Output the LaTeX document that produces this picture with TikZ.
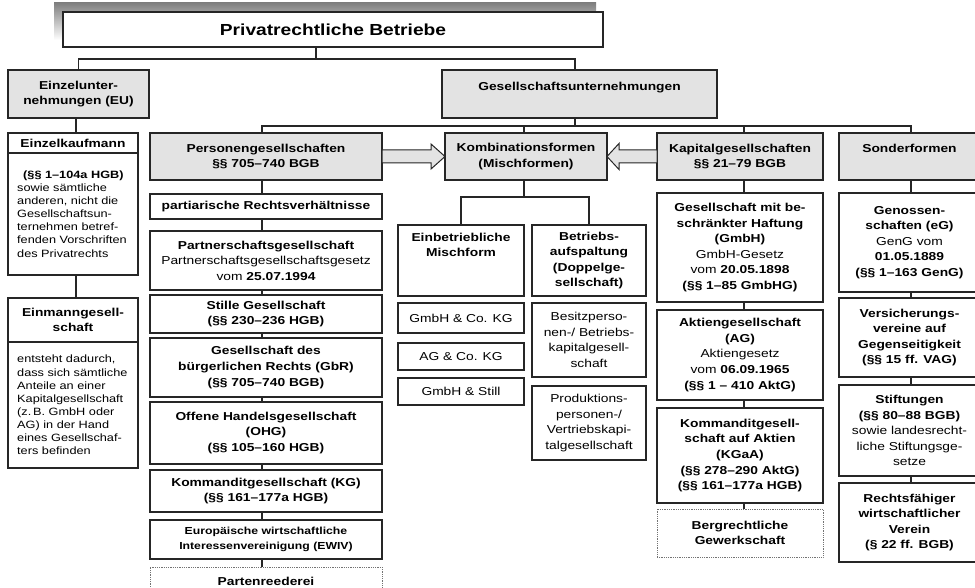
\documentclass[tikz,border=0pt]{standalone}
\usepackage{fontspec}
\setmainfont{Liberation Sans}[FakeStretch=1.2]
\usetikzlibrary{calc,backgrounds}
\definecolor{boxgray}{gray}{0.89}
\definecolor{shade}{gray}{0.91}
\definecolor{ink}{gray}{0.15}
\newcommand\fs{\fontsize{11.5}{15.6}\selectfont}
\newcommand\fsleft{\fontsize{10.6}{13.1}\selectfont}
\newcommand\fssmall{\fontsize{10.2}{15}\selectfont}

\begin{document}
\begin{tikzpicture}[x=1pt,y=-1pt,
  frame/.style={draw=ink, line width=1.2pt, inner sep=0pt, outer sep=0pt, align=center, font=\fs},
  gray box/.style={frame, fill=boxgray, font=\fs\bfseries},
  white box/.style={frame, fill=white},
  dotted box/.style={frame, fill=white, draw=black!55, line width=0.8pt, densely dotted, font=\fs\bfseries},
  area/.style n args={4}{minimum width={#3-#1}, minimum height={#4-#2}, at={({(#1+#3)/2},{(#2+#4)/2})}},
  link/.style={draw=ink, line width=1.2pt},
  block arrow/.style={draw=ink, line width=1pt, fill=boxgray, line join=miter},
  body text/.style={inner sep=0pt, text width=124pt, align=left, font=\fsleft, anchor=west}
]
\useasboundingbox (0,0) rectangle (975,588);
\clip (0,0) rectangle (975,588);

% title with its shaded backing
\fill[shade] (54,3) rectangle (596,40);
\node[frame, fill=white, line width=1.8pt, font=\fontsize{16}{19}\selectfont\bfseries, area={63}{12}{603}{47}] (top) {Privatrechtliche Betriebe};

% first level
\node[gray box, area={8}{70}{149}{118}] (eu) {Einzelunter-\\nehmungen (EU)};
\node[gray box, area={442}{70}{717}{118}] (gu) {Gesellschaftsunternehmungen\\\mbox{}};

% second level
\node[gray box, area={150}{133}{382}{180}] (pg) {Personengesellschaften\\§§ 705–740 BGB};
\node[gray box, area={445}{133}{607}{180}] (kf) {Kombinationsformen\\(Mischformen)};
\node[gray box, area={657}{133}{823}{180}] (kg) {Kapitalgesellschaften\\§§ 21–79 BGB};
\node[gray box, area={839}{133}{980}{180}] (sf) {Sonderformen\\\mbox{}};

% sole proprietorships
\node[white box, font=\fs\bfseries, area={8}{133}{138}{153}] (ekh) {Einzelkaufmann};
\node[white box, area={8}{153}{138}{275}] (ekb) {};
\node[body text] (ekt) at ([xshift=9pt]ekb.west) {\hspace*{6pt}\textbf{(§§ 1–104a HGB)}\\sowie sämtliche\\anderen, nicht die\\Gesellschaftsun-\\ternehmen betref-\\fenden Vorschriften\\des Privatrechts};
\node[white box, font=\fs\bfseries, area={8}{298}{138}{342}] (emh) {Einmanngesell-\\schaft};
\node[white box, area={8}{342}{138}{468}] (emb) {};
\node[body text] (emt) at ([xshift=9pt]emb.west) {entsteht dadurch,\\dass sich sämtliche\\Anteile an einer\\Kapitalgesellschaft\\(z.\,B. GmbH oder\\AG) in der Hand\\eines Gesellschaf-\\ters befinden};

% partnerships
\node[white box, font=\fs\bfseries, area={150}{194}{382}{219}] (pa) {partiarische Rechtsverhältnisse};
\node[white box, area={150}{231}{382}{290}] (pt) {\textbf{Partnerschaftsgesellschaft}\\Partnerschaftsgesellschaftsgesetz\\vom \textbf{25.07.1994}};
\node[white box, font=\fs\bfseries, area={150}{295}{382}{333}] (st) {Stille Gesellschaft\\(§§ 230–236 HGB)};
\node[white box, font=\fs\bfseries, area={150}{338}{382}{397}] (gb) {Gesellschaft des\\bürgerlichen Rechts (GbR)\\(§§ 705–740 BGB)};
\node[white box, font=\fs\bfseries, area={150}{402}{382}{464}] (oh) {Offene Handelsgesellschaft\\(OHG)\\(§§ 105–160 HGB)};
\node[white box, font=\fs\bfseries, area={150}{470}{382}{512}] (kd) {Kommanditgesellschaft (KG)\\(§§ 161–177a HGB)};
\node[white box, font=\fssmall\bfseries, area={150}{520}{382}{559}] (ew) {Europäische wirtschaftliche\\Interessenvereinigung (EWIV)};
\node[dotted box, area={150}{567}{382}{595}] (pr) {Partenreederei};

% mixed forms
\node[white box, font=\fs\bfseries, area={398}{225}{524}{296}] (eb) {Einbetriebliche\\Mischform\\\mbox{}\\\mbox{}};
\node[white box, font=\fs\bfseries, area={532}{225}{646}{296}] (ba) {Betriebs-\\aufspaltung\\(Doppelge-\\sellschaft)};
\node[white box, area={398}{303}{524}{333}] (m1) {GmbH \& Co. KG};
\node[white box, area={398}{343}{524}{370}] (m2) {AG \& Co. KG};
\node[white box, area={398}{378}{524}{405}] (m3) {GmbH \& Still};
\node[white box, area={532}{303}{646}{377}] (b1) {Besitzperso-\\nen-/ Betriebs-\\kapitalgesell-\\schaft};
\node[white box, area={532}{386}{646}{460}] (b2) {Produktions-\\personen-/\\Vertriebskapi-\\talgesellschaft};

% corporations
\node[white box, area={657}{193}{823}{302}] (gm) {\textbf{Gesellschaft mit be-}\\\textbf{schränkter Haftung}\\\textbf{(GmbH)}\\GmbH-Gesetz\\vom \textbf{20.05.1898}\\\textbf{(§§ 1–85 GmbHG)}};
\node[white box, area={657}{310}{823}{400}] (ag) {\textbf{Aktiengesellschaft}\\\textbf{(AG)}\\Aktiengesetz\\vom \textbf{06.09.1965}\\\textbf{(§§ 1 – 410 AktG)}};
\node[white box, font=\fs\bfseries, area={657}{408}{823}{503}] (ka) {Kommanditgesell-\\schaft auf Aktien\\(KGaA)\\(§§ 278–290 AktG)\\(§§ 161–177a HGB)};
\node[dotted box, area={657}{509}{823}{557}] (bg) {Bergrechtliche\\Gewerkschaft};

% special forms
\node[white box, area={839}{193}{980}{292}] (eg) {\textbf{Genossen-}\\\textbf{schaften (eG)}\\GenG vom\\\textbf{01.05.1889}\\\textbf{(§§ 1–163 GenG)}};
\node[white box, font=\fs\bfseries, area={839}{298}{980}{377}] (vv) {Versicherungs-\\vereine auf\\Gegenseitigkeit\\(§§ 15 ff. VAG)};
\node[white box, area={839}{385}{980}{476}] (sg) {\textbf{Stiftungen}\\\textbf{(§§ 80–88 BGB)}\\sowie landesrecht-\\liche Stiftungsge-\\setze};
\node[white box, font=\fs\bfseries, area={839}{483}{980}{562}] (rv) {Rechtsfähiger\\wirtschaftlicher\\Verein\\(§ 22 ff. BGB)};

% junctions and column lines
\coordinate (t0) at (316,59);
\coordinate (t1) at (575,126);
\coordinate (t2) at (524,197);
\coordinate (L) at (76,0);
\coordinate (P) at (262,0);
\coordinate (K) at (524,0);
\coordinate (C) at (744,0);
\coordinate (S) at (911,0);

\begin{scope}[on background layer]
  \draw[link] (top.south -| t0) -- (t0);
  \draw[link] (eu.north) |- (t0) -| ($(gu.north)+(-4.5,0)$);
  \draw[link] (gu.south -| t1) -- (t1);
  \draw[link] (pg.north -| P) |- (t1) -| (sf.north -| S);
  \draw[link] (kf.north -| K) -- (K |- t1);
  \draw[link] (kg.north -| C) -- (C |- t1);
  \draw[link] (eu.south -| L) -- (ekh.north -| L);
  \draw[link] (ekb.south -| L) -- (emh.north -| L);
  \foreach \a/\b in {pg/pa, pa/pt, pt/st, st/gb, gb/oh, oh/kd, kd/ew, ew/pr}
    \draw[link] (\a.south -| P) -- (\b.north -| P);
  \foreach \a/\b in {kg/gm, gm/ag, ag/ka, ka/bg}
    \draw[link] (\a.south -| C) -- (\b.north -| C);
  \foreach \a/\b in {sf/eg, eg/vv, vv/sg, sg/rv}
    \draw[link] (\a.south -| S) -- (\b.north -| S);
  \draw[link] (kf.south -| t2) -- (t2);
  \draw[link] (eb.north) |- (t2) -| (ba.north);
\end{scope}

% hollow block arrows into the mixed forms
\draw[block arrow] ($(pg.east)+(0,-6.5)$) -- ($(kf.west)+(-14,-6.5)$) -- ($(kf.west)+(-14,-12.5)$) -- (kf.west)
  -- ($(kf.west)+(-14,12.5)$) -- ($(kf.west)+(-14,6.5)$) -- ($(pg.east)+(0,6.5)$) -- cycle;
\draw[block arrow] ($(kg.west)+(0,-6.5)$) -- ($(kf.east)+(12,-6.5)$) -- ($(kf.east)+(12,-13)$) -- (kf.east)
  -- ($(kf.east)+(12,13)$) -- ($(kf.east)+(12,6.5)$) -- ($(kg.west)+(0,6.5)$) -- cycle;
\end{tikzpicture}
\end{document}
